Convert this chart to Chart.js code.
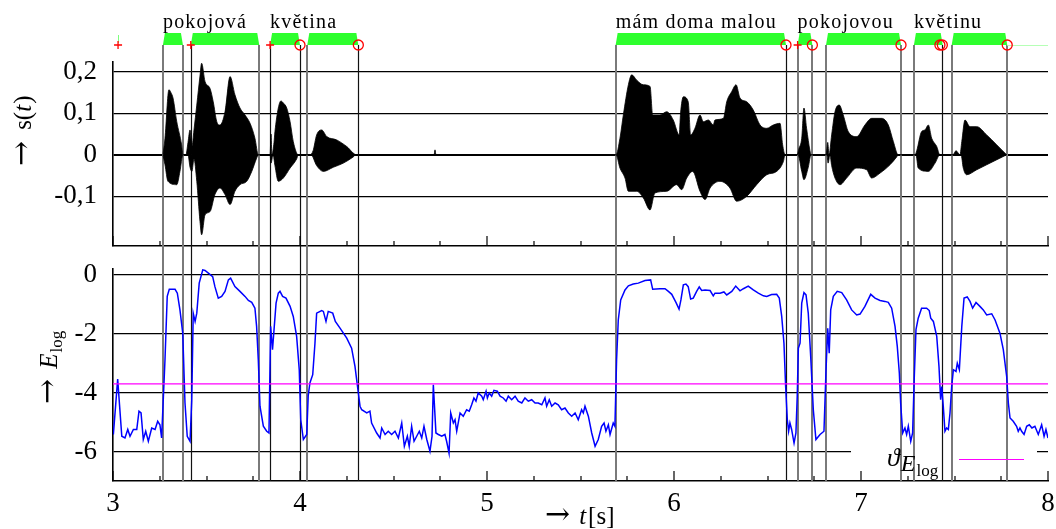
<!DOCTYPE html>
<html>
<head>
<meta charset="utf-8">
<script src="https://cdn.jsdelivr.net/npm/chart.js@4"></script>
<style>
  html, body { margin: 0; padding: 0; background: #fff; }
  #wrap { position: relative; width: 1056px; height: 529px; }
  #wrap canvas { position: absolute; left: 0; top: 0; }
</style>
</head>
<body>
<div id="wrap">
  <canvas id="sig" width="1056" height="529"></canvas>
  <canvas id="energy" width="1056" height="529"></canvas>
</div>
<script>
/* speech segmentation: waveform s(t) and log energy with threshold */

// words and their start times [s]
const words = ['pokojová', 'květina', 'mám doma malou', 'pokojovou', 'květinu'];
const wordStart = [3.267, 3.840, 5.688, 6.661, 7.283];

// detected speech segments (green bars)
const segStart = [3.267, 3.416, 3.840, 4.039, 5.688, 6.661, 6.813, 7.283, 7.485];
const segEnd   = [3.374, 3.782, 4.000, 4.312, 6.599, 6.740, 7.214, 7.437, 7.782];
const blips = [3.027];

// boundary lines: two kinds
const cutsBlack = [3.416, 3.840, 4.000, 4.312, 6.599, 7.435];
const cutsGray  = [3.269, 3.376, 3.782, 4.039, 5.688, 6.661, 6.740, 6.813, 7.214, 7.283, 7.485, 7.782];

// marks on the segment row
const plusMarks   = [3.027, 3.416, 3.840, 6.661];
const circleMarks = [4.000, 4.312, 6.599, 6.740, 7.214, 7.422, 7.435, 7.782];

// axis ticks
const xTicks = [3, 4, 5, 6, 7, 8];
const xMinor = [3.25, 3.5, 3.75, 4.25, 4.5, 4.75, 5.25, 5.5, 5.75, 6.25, 6.5, 6.75, 7.25, 7.5, 7.75];
const sTicks = [-0.1, 0, 0.1, 0.2];
const eTicks = [-6, -4, -2, 0];

// waveform envelope (upper)
const wUpT = [3.267, 3.278, 3.299, 3.310, 3.321, 3.341, 3.367, 3.374,
  3.390, 3.401, 3.412, 3.422, 3.433, 3.448, 3.465, 3.474, 3.492, 3.519, 3.536, 3.555, 3.572, 3.599, 3.626, 3.652, 3.679, 3.706, 3.733, 3.759, 3.777,
  3.840, 3.845, 3.850, 3.861, 3.866, 3.884, 3.898, 3.911, 3.929, 3.947, 3.964, 3.991,
  4.053, 4.070, 4.089, 4.116, 4.143, 4.196, 4.250, 4.303,
  4.717, 4.722, 4.727,
  5.690, 5.711, 5.729, 5.756, 5.774, 5.801, 5.836, 5.872, 5.886, 5.925, 5.961, 5.996, 6.028, 6.035, 6.050, 6.076, 6.089, 6.112,
  6.139, 6.157, 6.184, 6.210, 6.219, 6.264, 6.282, 6.309, 6.332, 6.353, 6.389, 6.424, 6.460, 6.496, 6.531, 6.567, 6.581, 6.594,
  6.658, 6.668, 6.683, 6.695, 6.709, 6.727, 6.733,
  6.813, 6.822, 6.829, 6.843, 6.861, 6.884, 6.905, 6.932, 6.977, 7.021, 7.057, 7.111, 7.146, 7.173, 7.199,
  7.289, 7.298, 7.324, 7.342, 7.360, 7.378, 7.405, 7.422,
  7.492, 7.508, 7.529,
  7.539, 7.556, 7.583, 7.619, 7.672, 7.726, 7.779];
const wUp = [0, 0.04, 0.157, 0.15, 0.137, 0.08, 0.024, 0,
  0, 0.03, 0.06, 0.02, 0.06, 0.12, 0.19, 0.221, 0.177, 0.16, 0.128, 0.08, 0.072, 0.104, 0.189, 0.145, 0.113, 0.096, 0.076, 0.04, 0,
  0, 0.05, 0, 0.03, 0.056, 0.113, 0.13, 0.125, 0.113, 0.08, 0.032, 0,
  0, 0.01, 0.048, 0.06, 0.044, 0.036, 0.02, 0,
  0, 0.012, 0,
  0, 0.04, 0.096, 0.169, 0.193, 0.18, 0.169, 0.165, 0.096, 0.096, 0.104, 0.084, 0.048, 0.1, 0.14, 0.128, 0.048, 0.064,
  0.096, 0.08, 0.084, 0.072, 0.084, 0.088, 0.128, 0.153, 0.169, 0.137, 0.128, 0.108, 0.072, 0.064, 0.072, 0.076, 0.024, 0,
  0, 0.015, 0.04, 0.113, 0.064, 0.01, 0,
  0, 0.03, 0, 0.048, 0.104, 0.12, 0.096, 0.056, 0.044, 0.072, 0.088, 0.088, 0.072, 0.032, 0,
  0, 0.01, 0.056, 0.06, 0.072, 0.04, 0.02, 0,
  0, 0.01, 0,
  0.032, 0.084, 0.068, 0.068, 0.048, 0.024, 0];

// waveform envelope (lower)
const wLoT = [3.267, 3.278, 3.294, 3.341, 3.358, 3.374,
  3.401, 3.412, 3.422, 3.433, 3.448, 3.465, 3.474, 3.492, 3.519, 3.545, 3.572, 3.599, 3.626, 3.652, 3.679, 3.715, 3.742, 3.768, 3.777,
  3.840, 3.845, 3.856, 3.866, 3.884, 3.911, 3.947, 3.982, 3.991,
  4.059, 4.089, 4.125, 4.178, 4.232, 4.285, 4.299,
  5.690, 5.711, 5.738, 5.756, 5.801, 5.836, 5.872, 5.898, 5.961, 6.014, 6.041, 6.068, 6.100,
  6.139, 6.166, 6.193, 6.246, 6.299, 6.335, 6.389, 6.442, 6.496, 6.549, 6.585, 6.594,
  6.663, 6.683, 6.695, 6.718, 6.733,
  6.818, 6.824, 6.834, 6.843, 6.861, 6.888, 6.923, 6.977, 7.030, 7.057, 7.102, 7.155, 7.191, 7.199,
  7.294, 7.306, 7.360, 7.396, 7.422,
  7.535, 7.547, 7.565, 7.619, 7.672, 7.743, 7.779];
const wLo = [0, -0.024, -0.064, -0.072, -0.04, 0,
  0, -0.03, -0.04, -0.01, -0.064, -0.16, -0.193, -0.145, -0.137, -0.096, -0.08, -0.096, -0.12, -0.088, -0.072, -0.064, -0.04, -0.008, 0,
  0, -0.02, 0, -0.026, -0.064, -0.056, -0.032, -0.01, 0,
  0, -0.026, -0.04, -0.03, -0.02, -0.005, 0,
  0, -0.032, -0.056, -0.088, -0.088, -0.104, -0.133, -0.092, -0.088, -0.072, -0.084, -0.056, -0.04,
  -0.088, -0.108, -0.08, -0.064, -0.08, -0.112, -0.1, -0.072, -0.048, -0.04, -0.016, 0,
  0, -0.04, -0.06, -0.03, 0,
  0, -0.02, 0, -0.026, -0.056, -0.072, -0.056, -0.032, -0.036, -0.056, -0.044, -0.024, -0.005, 0,
  0, -0.032, -0.04, -0.02, 0,
  0, -0.032, -0.048, -0.036, -0.024, -0.008, 0];

// log energy
const eTime = [
  3.002, 3.025, 3.047, 3.064, 3.079, 3.091, 3.109, 3.127, 3.139, 3.150,
  3.162, 3.175, 3.189, 3.207, 3.225, 3.239, 3.251, 3.260, 3.278, 3.290,
  3.301, 3.332, 3.344, 3.358, 3.373, 3.385, 3.397, 3.412, 3.421, 3.429,
  3.439, 3.448, 3.461, 3.480, 3.492, 3.510, 3.533, 3.545, 3.563, 3.581,
  3.599, 3.617, 3.629, 3.652, 3.679, 3.706, 3.724, 3.742, 3.759, 3.768,
  3.777, 3.786, 3.804, 3.822, 3.834, 3.843, 3.853, 3.872, 3.884, 3.893,
  3.907, 3.925, 3.947, 3.964, 3.982, 3.996, 4.004, 4.018, 4.036, 4.044,
  4.053, 4.068, 4.080, 4.089, 4.116, 4.125, 4.139, 4.151, 4.175, 4.189,
  4.214, 4.250, 4.276, 4.294, 4.312, 4.321, 4.330, 4.357, 4.374, 4.383,
  4.410, 4.428, 4.437, 4.455, 4.472, 4.490, 4.508, 4.526, 4.544, 4.558,
  4.574, 4.584, 4.597, 4.610, 4.624, 4.638, 4.651, 4.663, 4.678, 4.695,
  4.706, 4.713, 4.727, 4.740, 4.758, 4.775, 4.784, 4.797, 4.806, 4.820,
  4.829, 4.838, 4.856, 4.873, 4.891, 4.905, 4.918, 4.930, 4.941, 4.953,
  4.972, 4.980, 4.995, 5.002, 5.012, 5.025, 5.037, 5.055, 5.070, 5.087,
  5.102, 5.114, 5.132, 5.150, 5.167, 5.186, 5.203, 5.221, 5.239, 5.257,
  5.274, 5.293, 5.310, 5.319, 5.333, 5.346, 5.364, 5.381, 5.399, 5.417,
  5.435, 5.453, 5.471, 5.488, 5.506, 5.515, 5.524, 5.542, 5.560, 5.578,
  5.595, 5.613, 5.626, 5.636, 5.649, 5.658, 5.675, 5.684, 5.693, 5.702,
  5.715, 5.738, 5.756, 5.782, 5.809, 5.845, 5.875, 5.886, 5.925, 5.952,
  5.970, 5.988, 6.011, 6.027, 6.037, 6.050, 6.064, 6.076, 6.089, 6.103,
  6.121, 6.135, 6.148, 6.166, 6.193, 6.210, 6.219, 6.246, 6.267, 6.282,
  6.309, 6.330, 6.353, 6.371, 6.397, 6.424, 6.451, 6.478, 6.496, 6.522,
  6.549, 6.563, 6.576, 6.588, 6.597, 6.606, 6.613, 6.620, 6.629, 6.642,
  6.652, 6.659, 6.665, 6.674, 6.683, 6.695, 6.706, 6.718, 6.731, 6.745,
  6.759, 6.781, 6.802, 6.813, 6.822, 6.830, 6.838, 6.852, 6.873, 6.897,
  6.923, 6.950, 6.977, 6.995, 7.021, 7.052, 7.075, 7.102, 7.128, 7.146,
  7.164, 7.182, 7.194, 7.205, 7.212, 7.223, 7.235, 7.244, 7.253, 7.266,
  7.276, 7.285, 7.294, 7.306, 7.324, 7.351, 7.365, 7.373, 7.387, 7.405,
  7.417, 7.426, 7.432, 7.440, 7.449, 7.458, 7.467, 7.476, 7.485, 7.494,
  7.508, 7.515, 7.526, 7.539, 7.551, 7.568, 7.583, 7.597, 7.615, 7.636,
  7.654, 7.672, 7.699, 7.717, 7.743, 7.761, 7.779, 7.788, 7.797, 7.814,
  7.832, 7.841, 7.850, 7.859, 7.872, 7.886, 7.900, 7.914, 7.930, 7.948,
  7.966, 7.979, 7.989, 8.000];
const eLog = [
  -5.42, -3.54, -5.48, -5.54, -5.25, -5.48, -5.25, -5.25, -4.63, -4.69,
  -5.59, -5.31, -5.65, -5.20, -5.25, -4.97, -5.09, -5.54, -2.88, -0.73,
  -0.49, -0.49, -0.62, -1.19, -1.98, -4.35, -5.48, -5.65, -4.27, -1.30,
  -1.58, -1.30, -0.28, 0.17, 0.15, 0.06, -0.06, -0.40, -0.79, -0.73,
  -0.56, -0.17, -0.11, -0.40, -0.56, -0.73, -0.87, -0.93, -1.13, -1.75,
  -2.88, -4.46, -5.14, -5.31, -5.37, -1.75, -2.54, -0.96, -0.62, -0.56,
  -0.73, -0.79, -1.07, -1.41, -2.09, -3.22, -4.92, -5.59, -5.42, -4.10,
  -3.67, -3.39, -2.32, -1.30, -1.21, -1.24, -1.58, -1.24, -1.30, -1.58,
  -1.81, -2.15, -2.49, -3.11, -4.01, -4.46, -4.58, -4.69, -4.63, -5.03,
  -5.37, -5.54, -5.20, -5.42, -5.31, -5.42, -5.31, -5.54, -5.03, -5.82,
  -5.48, -5.82, -5.14, -5.65, -5.48, -5.31, -5.54, -5.14, -5.59, -5.99,
  -5.48, -3.73, -5.37, -5.42, -5.48, -5.42, -5.65, -6.05, -4.69, -5.03,
  -4.92, -5.31, -4.69, -4.80, -4.58, -4.63, -4.41, -4.18, -4.29, -4.01,
  -4.12, -4.24, -3.95, -4.18, -4.01, -4.12, -3.92, -3.95, -4.12, -4.18,
  -4.29, -4.12, -4.24, -4.12, -4.29, -4.35, -4.18, -4.29, -4.24, -4.35,
  -4.35, -4.41, -4.18, -4.46, -4.24, -4.46, -4.35, -4.41, -4.58, -4.52,
  -4.69, -4.80, -4.69, -4.92, -4.58, -4.69, -4.46, -4.80, -5.37, -5.82,
  -5.59, -5.14, -5.03, -5.31, -5.09, -5.42, -5.03, -5.14, -2.88, -1.53,
  -0.85, -0.51, -0.37, -0.31, -0.28, -0.19, -0.17, -0.49, -0.47, -0.47,
  -0.56, -0.66, -0.94, -1.16, -0.85, -0.34, -0.31, -0.40, -0.82, -0.79,
  -0.56, -0.41, -0.53, -0.51, -0.53, -0.71, -0.62, -0.62, -0.58, -0.68,
  -0.56, -0.38, -0.54, -0.47, -0.38, -0.51, -0.62, -0.71, -0.73, -0.67,
  -0.66, -0.79, -1.41, -2.32, -3.79, -4.92, -5.31, -5.03, -5.25, -5.71,
  -5.37, -4.12, -2.49, -2.32, -0.96, -0.60, -0.68, -1.30, -2.77, -4.58,
  -5.59, -5.42, -5.31, -3.22, -1.81, -2.66, -1.19, -0.73, -0.56, -0.60,
  -0.85, -1.19, -1.36, -1.33, -1.07, -0.66, -0.79, -0.87, -0.90, -0.93,
  -1.13, -1.75, -2.43, -3.33, -4.35, -5.37, -5.20, -5.42, -5.14, -5.65,
  -5.37, -3.45, -1.86, -1.47, -1.13, -1.13, -1.21, -1.47, -1.58, -2.09,
  -3.11, -4.24, -3.79, -4.46, -5.31, -5.20, -5.25, -4.69, -3.79, -3.22,
  -3.28, -3.00, -3.22, -1.75, -0.79, -0.75, -0.90, -1.13, -0.94, -1.07,
  -1.19, -1.36, -1.32, -1.53, -1.98, -2.54, -3.45, -4.35, -4.86, -4.97,
  -5.14, -5.31, -5.20, -5.31, -5.42, -5.14, -5.09, -5.20, -5.14, -5.42,
  -5.09, -5.48, -5.25, -5.54];

// energy threshold
const thrTime = [3, 8];
const thrVal = [-3.7, -3.7];

/* ---------- helpers ---------- */
const SERIF = '"Liberation Serif", "DejaVu Serif", serif';
const F = (size, italic) => (italic ? 'italic ' : '') + size + 'px ' + SERIF;
const ARROW = '30px "DejaVu Serif", serif';
Chart.defaults.font.family = SERIF;
Chart.defaults.color = '#000';

const pts = (xs, ys) => xs.map((t, i) => ({ x: t, y: ys[i] }));

function vline(ctx, x, y0, y1) {
  ctx.beginPath(); ctx.moveTo(x, y0); ctx.lineTo(x, y1); ctx.stroke();
}

function drawCuts(chart, y0, y1) {
  const { ctx, scales: { x } } = chart;
  ctx.save();
  ctx.strokeStyle = '#7a7a7a'; ctx.lineWidth = 2;
  cutsGray.forEach((t) => vline(ctx, Math.round(x.getPixelForValue(t)), y0, y1));
  ctx.strokeStyle = '#111'; ctx.lineWidth = 1.2;
  cutsBlack.forEach((t) => vline(ctx, Math.round(x.getPixelForValue(t)) + 0.5, y0, y1));
  ctx.restore();
}

function drawInTicks(chart) {
  const { ctx, chartArea, scales: { x } } = chart;
  const y = chartArea.bottom;
  ctx.save();
  ctx.strokeStyle = '#000'; ctx.lineWidth = 1.2;
  xTicks.forEach((v) => vline(ctx, Math.round(x.getPixelForValue(v)), y, y - 10));
  xMinor.forEach((v) => vline(ctx, Math.round(x.getPixelForValue(v)), y, y - 5));
  ctx.restore();
}

function rich(ctx, parts, x, y, rot) {
  ctx.save();
  ctx.translate(x, y);
  if (rot) ctx.rotate(rot);
  ctx.fillStyle = '#000'; ctx.textBaseline = 'alphabetic'; ctx.textAlign = 'left';
  let cx = 0;
  parts.forEach((p) => {
    ctx.font = p.font;
    ctx.fillText(p.text, cx, p.dy || 0);
    cx += ctx.measureText(p.text).width + (p.gap || 0);
  });
  ctx.restore();
}

// keep the plot box fixed: no extra room for overflowing end labels
function fixX(h) {
  return (s) => { s.height = h; s.paddingLeft = 0; s.paddingRight = 0; };
}
function fixY(s) { s.width = 113; s.paddingTop = 0; s.paddingBottom = 0; }

const BAR_TOP = 33, BAR_BOT = 45;

/* ---------- top: waveform ---------- */
const sigDecor = {
  id: 'sigDecor',
  beforeDatasetsDraw(chart) {
    drawCuts(chart, BAR_BOT, 269);
  },
  afterDraw(chart) {
    const { ctx, chartArea, scales: { x } } = chart;
    ctx.save();
    // segment bars
    ctx.fillStyle = '#2eff2e';
    segStart.forEach((s, i) => {
      const x0 = x.getPixelForValue(s), x1 = x.getPixelForValue(segEnd[i]);
      ctx.beginPath();
      ctx.moveTo(x0, BAR_BOT); ctx.lineTo(x0 + 2, BAR_TOP);
      ctx.lineTo(x1 - 2, BAR_TOP); ctx.lineTo(x1, BAR_BOT);
      ctx.closePath(); ctx.fill();
    });
    ctx.strokeStyle = '#7dff7d'; ctx.lineWidth = 1;
    blips.forEach((t) => vline(ctx, Math.round(x.getPixelForValue(t)) + 0.5, BAR_TOP + 2, BAR_BOT - 2));
    ctx.strokeStyle = '#b6ffb6';
    ctx.beginPath();
    ctx.moveTo(x.getPixelForValue(segEnd[segEnd.length - 1]), BAR_BOT + 0.5);
    ctx.lineTo(chartArea.right, BAR_BOT + 0.5); ctx.stroke();

    // marks
    ctx.strokeStyle = '#ff0000'; ctx.lineWidth = 1.3;
    plusMarks.forEach((t) => {
      const px = x.getPixelForValue(t);
      ctx.beginPath();
      ctx.moveTo(px - 4, BAR_BOT); ctx.lineTo(px + 4, BAR_BOT);
      ctx.moveTo(px, BAR_BOT - 4); ctx.lineTo(px, BAR_BOT + 4);
      ctx.stroke();
    });
    circleMarks.forEach((t) => {
      const px = x.getPixelForValue(t);
      ctx.beginPath(); ctx.arc(px, BAR_BOT, 5, 0, Math.PI * 2); ctx.stroke();
    });

    // words
    ctx.fillStyle = '#000'; ctx.font = F(20);
    ctx.textBaseline = 'alphabetic'; ctx.textAlign = 'left';
    if ('letterSpacing' in ctx) ctx.letterSpacing = '1.2px';
    words.forEach((w, i) => ctx.fillText(w, x.getPixelForValue(wordStart[i]), 28));
    ctx.restore();

    drawInTicks(chart);
    rich(ctx, [
      { text: '\u2192', font: ARROW, gap: 11 },
      { text: 's(', font: F(25) },
      { text: 't', font: F(25, true), gap: 1 },
      { text: ')', font: F(25) },
    ], 31, 166, -Math.PI / 2);
  },
};

const wave = { borderColor: '#000', borderWidth: 0.8, backgroundColor: '#000', fill: 'origin', pointRadius: 0, cubicInterpolationMode: 'monotone' };

new Chart(document.getElementById('sig'), {
  type: 'line',
  data: {
    datasets: [
      { ...wave, data: pts(wUpT, wUp) },
      { ...wave, data: pts(wLoT, wLo) },
    ],
  },
  options: {
    responsive: false, animation: false,
    layout: { padding: { top: 62, right: 8, left: 0, bottom: 0 } },
    plugins: { legend: { display: false }, tooltip: { enabled: false } },
    scales: {
      x: {
        type: 'linear', min: 3, max: 8,
        ticks: { display: false },
        grid: { drawOnChartArea: false, drawTicks: false },
        border: { display: true, color: '#000', width: 1.4 },
        afterFit: fixX(283),
      },
      y: {
        min: -0.22, max: 0.224,
        afterBuildTicks: (s) => { s.ticks = sTicks.map((v) => ({ value: v })); },
        ticks: {
          font: { size: 27 }, color: '#000', padding: 16,
          callback: (v) => (v === 0 ? '0' : v.toFixed(1).replace('.', ',')),
        },
        grid: { color: '#000', lineWidth: (c) => (c.tick && c.tick.value === 0 ? 2 : 1.2), drawTicks: false },
        border: { display: true, color: '#000', width: 1.6 },
        afterFit: fixY,
      },
    },
  },
  plugins: [sigDecor],
});

/* ---------- bottom: log energy ---------- */
const energyDecor = {
  id: 'energyDecor',
  beforeDatasetsDraw(chart) {
    const { ctx, chartArea, scales: { y } } = chart;
    // legend box hides part of the lowest grid line
    const gy = y.getPixelForValue(-6);
    ctx.save();
    ctx.fillStyle = '#fff';
    ctx.fillRect(851, gy - 3, 186, 6);
    ctx.restore();
    drawCuts(chart, chartArea.top, chartArea.bottom);
  },
  afterDraw(chart) {
    const { ctx } = chart;
    drawInTicks(chart);
    // legend
    rich(ctx, [
      { text: '\u03D1', font: F(26, true), gap: 1 },
      { text: 'E', font: F(24, true), dy: 5, gap: 1 },
      { text: 'log', font: F(17), dy: 10 },
    ], 887, 466);
    ctx.save();
    ctx.strokeStyle = '#ff00ff'; ctx.lineWidth = 1.2;
    ctx.beginPath(); ctx.moveTo(959, 459.5); ctx.lineTo(1024, 459.5); ctx.stroke();
    ctx.restore();
    // axis titles
    rich(ctx, [
      { text: '\u2192', font: ARROW, gap: 10 },
      { text: 'E', font: F(25, true), gap: 1 },
      { text: 'log', font: F(17), dy: 5 },
    ], 57, 404, -Math.PI / 2);
    rich(ctx, [
      { text: '\u2192', font: ARROW, gap: 9 },
      { text: 't', font: F(25, true), gap: 2 },
      { text: '[s]', font: F(25) },
    ], 545, 524);
  },
};

new Chart(document.getElementById('energy'), {
  type: 'line',
  data: {
    datasets: [
      { data: pts(thrTime, thrVal), borderColor: '#ff00ff', borderWidth: 1.2, pointRadius: 0, fill: false },
      { data: pts(eTime, eLog), borderColor: '#0000ff', borderWidth: 1.5, pointRadius: 0, fill: false, tension: 0 },
    ],
  },
  options: {
    responsive: false, animation: false,
    layout: { padding: { top: 269, right: 8, left: 0, bottom: 0 } },
    plugins: { legend: { display: false }, tooltip: { enabled: false } },
    scales: {
      x: {
        type: 'linear', min: 3, max: 8,
        afterBuildTicks: (s) => { s.ticks = xTicks.map((v) => ({ value: v })); },
        ticks: { font: { size: 27 }, color: '#000', padding: 7, maxRotation: 0 },
        grid: { drawOnChartArea: false, drawTicks: false },
        border: { display: true, color: '#000', width: 1.6 },
        afterFit: fixX(48),
      },
      y: {
        min: -7, max: 0.2,
        afterBuildTicks: (s) => { s.ticks = eTicks.map((v) => ({ value: v })); },
        ticks: { font: { size: 27 }, color: '#000', padding: 16, callback: (v) => String(v) },
        grid: { color: '#000', lineWidth: 1.2, drawTicks: false },
        border: { display: true, color: '#000', width: 1.6 },
        afterFit: fixY,
      },
    },
  },
  plugins: [energyDecor],
});
</script>
</body>
</html>
